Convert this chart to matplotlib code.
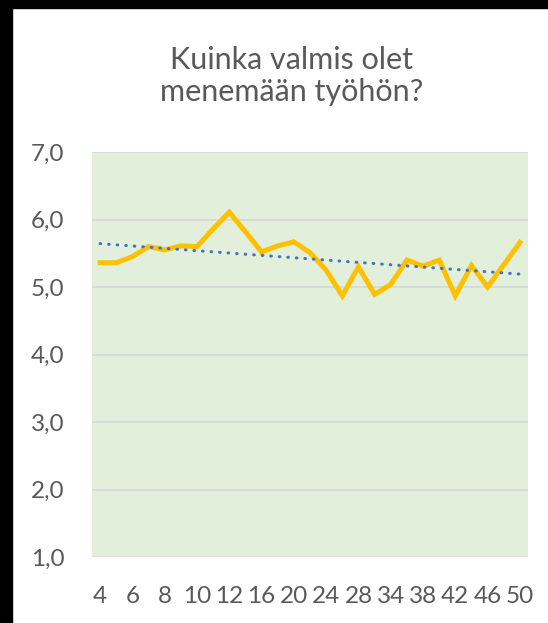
import numpy as np
import matplotlib
matplotlib.use('Agg')
import matplotlib.pyplot as plt
from matplotlib.patches import Rectangle

# --- data ---
weeks = ['4', '5', '6', '7', '8', '9', '10', '11', '12', '14', '16', '18', '20', '22',
         '24', '26', '28', '30', '34', '36', '38', '40', '42', '44', '46', '48', '50']
values = [5.36, 5.36, 5.45, 5.60, 5.55, 5.61, 5.60, 5.86, 6.11, 5.82, 5.52, 5.61, 5.67, 5.51,
          5.25, 4.87, 5.30, 4.89, 5.04, 5.40, 5.31, 5.40, 4.87, 5.32, 5.00, 5.33, 5.66]
y_ticks = [1, 2, 3, 4, 5, 6, 7]
title = 'Kuinka valmis olet\nmenemään työhön?'

plt.rcParams['font.family'] = ['Lato', 'DejaVu Sans']
text_col = '#595959'

fig = plt.figure(figsize=(5.48, 6.23), dpi=100)
ax = fig.add_axes([0.1679, 0.1059, 0.7956, 0.650])

x = np.arange(len(weeks))
ax.set_facecolor('#E2EFDA')
ax.plot(x, values, color='#FFC000', lw=3.6, solid_joinstyle='miter', zorder=3)

# linear trendline, like Excel
k, b = np.polyfit(x, values, 1)
ax.plot(x, k * x + b, color='#4472C4', lw=2.2, dashes=[0.2, 2.6],
        dash_capstyle='round', zorder=4)

ax.set_xlim(-0.5, len(weeks) - 0.5)
ax.set_ylim(1, 7)
ax.set_yticks(y_ticks)
ax.set_yticklabels([f'{v:.1f}'.replace('.', ',') for v in y_ticks])
ax.set_xticks(x[::2])
ax.set_xticklabels(weeks[::2])
ax.grid(axis='y', color='#D9D9D9', lw=1.3, zorder=0)
ax.set_axisbelow(True)
for s in ax.spines.values():
    s.set_visible(False)
ax.tick_params(length=0, labelsize=17.5, colors=text_col)
ax.tick_params(axis='y', pad=20)
ax.tick_params(axis='x', pad=21)

fig.text(0.532, 0.878, title, ha='center', va='center', fontsize=22,
         color=text_col, linespacing=1.2)

# black frame edges seen on the left and top
fig.patches.append(Rectangle((0, 0), 12 / 548, 1, transform=fig.transFigure,
                             color='black', zorder=10))
fig.patches.append(Rectangle((0, 1 - 8 / 623), 1, 8 / 623, transform=fig.transFigure,
                             color='black', zorder=10))

fig.savefig('out.png', dpi=100)
